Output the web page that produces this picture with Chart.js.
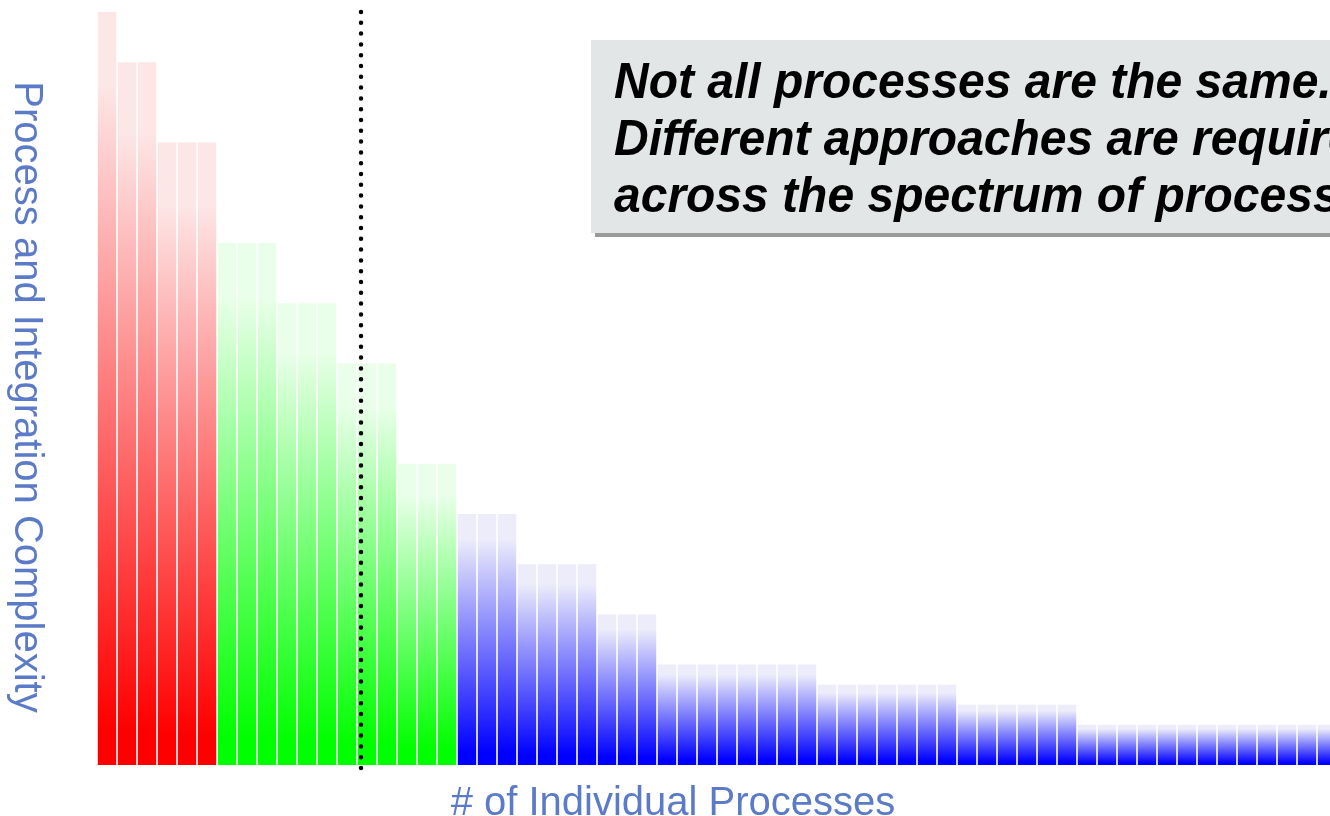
<!DOCTYPE html>
<html>
<head>
<meta charset="utf-8">
<script src="https://cdn.jsdelivr.net/npm/chart.js@4/dist/chart.umd.min.js"></script>
<style>
  html, body { margin: 0; padding: 0; background: #fff; overflow: hidden; }
  #wrap { width: 1330px; height: 816px; overflow: hidden; }
</style>
</head>
<body>
<div id="wrap"><canvas id="complexity_chart" width="1340" height="816"></canvas></div>
<script>
// complexity of each process, ordered from most to least complex
const complexity_values = [
  37.5, 35, 35, 31, 31, 31,
  26, 26, 26, 23, 23, 23, 20, 20, 20, 15, 15, 15,
  12.5, 12.5, 12.5, 10, 10, 10, 10, 7.5, 7.5, 7.5,
  5, 5, 5, 5, 5, 5, 5, 5,
  4, 4, 4, 4, 4, 4, 4,
  3, 3, 3, 3, 3, 3,
  2, 2, 2, 2, 2, 2, 2, 2, 2, 2, 2, 2, 2
];
const process_labels = complexity_values.map((v, i) => `Process ${i + 1}`);

// how many processes fall in each tier (red, green, blue)
const tier_names = ["High", "Medium", "Low"];
const tier_counts = [6, 12, 44];
const y_max = 37.5;
const divider_at = 12.7; // category position of the dotted line

const tier_colors = [
  { full: "#ff0000", pale: "#fde6e6" },
  { full: "#00ff00", pale: "#eaffea" },
  { full: "#0000ff", pale: "#ececfb" },
];

const box_lines = [
  "Not all processes are the same.",
  "Different approaches are required",
  "across the spectrum of processes",
];

const label_color = "#5b7bc9";

const tierOf = (index) => {
  let acc = 0;
  for (let t = 0; t < tier_counts.length; t++) {
    acc += tier_counts[t];
    if (index < acc) return t;
  }
  return tier_counts.length - 1;
};

const barColor = (context) => {
  const colors = tier_colors[tierOf(context.dataIndex)];
  const chart = context.chart;
  const area = chart.chartArea;
  if (!area || !chart.scales.y) return colors.full;
  const top = chart.scales.y.getPixelForValue(context.raw);
  const bottom = chart.scales.y.getPixelForValue(0);
  const gradient = chart.ctx.createLinearGradient(0, top, 0, bottom);
  gradient.addColorStop(0, colors.pale);
  gradient.addColorStop(0.1, colors.pale);
  gradient.addColorStop(0.95, colors.full);
  gradient.addColorStop(1, colors.full);
  return gradient;
};

const extras = {
  id: "extras",
  afterDatasetsDraw(chart) {
    const { ctx, chartArea } = chart;
    const x = chart.scales.x.getPixelForValue(divider_at);
    ctx.save();
    ctx.strokeStyle = "#000";
    ctx.lineWidth = 4.5;
    ctx.lineCap = "round";
    ctx.setLineDash([0, 10.8]);
    ctx.beginPath();
    ctx.moveTo(x, chartArea.top);
    ctx.lineTo(x, chartArea.bottom + 4);
    ctx.stroke();
    ctx.restore();
  },
  afterDraw(chart) {
    const ctx = chart.ctx;
    ctx.save();
    // callout box with a shadow
    ctx.fillStyle = "#9a9a9a";
    ctx.fillRect(595, 44, 760, 193);
    ctx.fillStyle = "#e3e6e7";
    ctx.fillRect(591, 40, 760, 193);
    ctx.fillStyle = "#000";
    ctx.font = "italic bold 48px 'Liberation Sans', Arial, sans-serif";
    ctx.textBaseline = "alphabetic";
    ctx.textAlign = "left";
    box_lines.forEach((line, i) => {
      ctx.save();
      ctx.translate(614, 98 + i * 57);
      ctx.scale(1, 1.06);
      ctx.fillText(line, 0, 0);
      ctx.restore();
    });

    // axis titles
    ctx.fillStyle = label_color;
    ctx.font = "40px 'Liberation Sans', Arial, sans-serif";
    ctx.textAlign = "center";
    ctx.fillText("# of Individual Processes", 673, 815);

    ctx.translate(15, 397);
    ctx.rotate(Math.PI / 2);
    ctx.fillText("Process and Integration Complexity", 0, 0);
    ctx.restore();
  },
};

const ctx = document.getElementById("complexity_chart").getContext("2d");

const my_chart = new Chart(ctx, {
  type: "bar",
  data: {
    labels: process_labels,
    datasets: [
      {
        label: "Complexity",
        data: complexity_values,
        backgroundColor: barColor,
        borderWidth: 0,
        barPercentage: 0.92,
        categoryPercentage: 1,
      },
    ],
  },
  options: {
    responsive: false,
    animation: false,
    layout: {
      padding: { left: 97, top: 12, right: 3, bottom: 51 },
    },
    scales: {
      x: { display: false },
      y: { display: false, min: 0, max: y_max },
    },
    plugins: {
      legend: { display: false },
      tooltip: { enabled: false },
    },
  },
  plugins: [extras],
});
</script>
</body>
</html>
